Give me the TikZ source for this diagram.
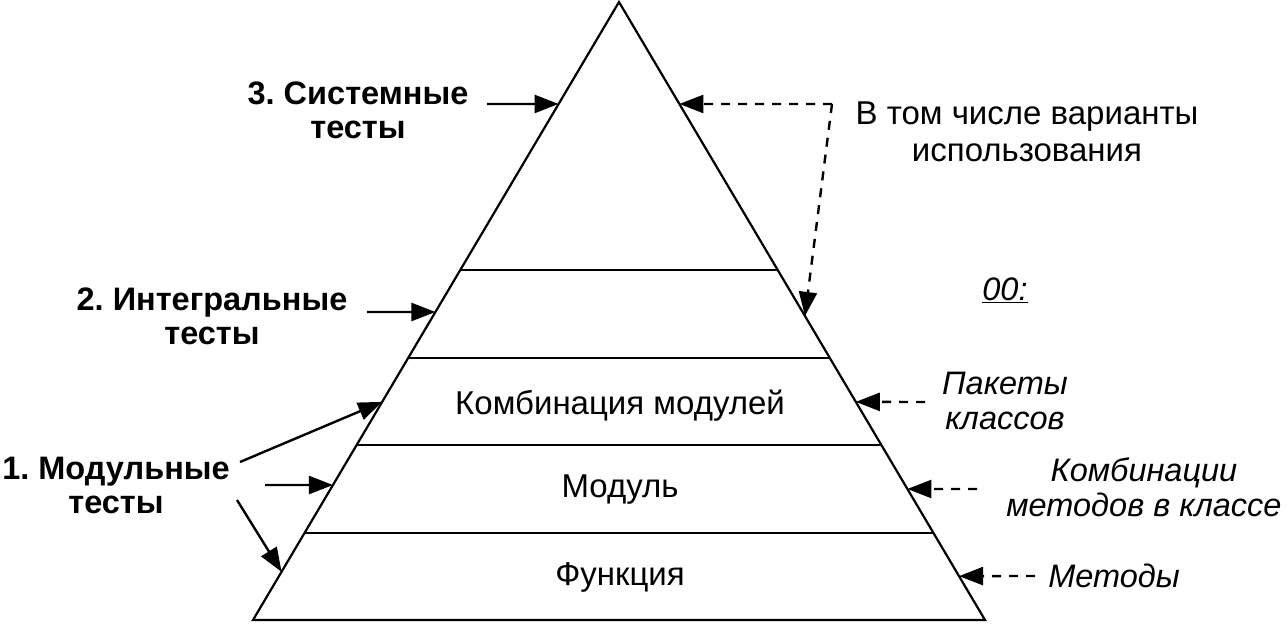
\documentclass[tikz,border=0pt]{standalone}
\usepackage{fontspec}
\setmainfont{Liberation Sans}
\usetikzlibrary{arrows.meta,calc}
\frenchspacing

\tikzset{
  level/.style={line width=2.2pt},
  pointer/.style={line width=2.4pt,-{Triangle[length=24pt,width=18pt]}},
  hint/.style={pointer,dash pattern=on 9pt off 8pt},
  bigtext/.style={font=\fontsize{32.5}{34}\selectfont\bfseries,align=center},
  plaintext/.style={font=\fontsize{33}{37}\selectfont,align=center},
  notetext/.style={font=\fontsize{32.5}{35}\selectfont\itshape,align=center}
}

\begin{document}
\begin{tikzpicture}[x=1pt,y=-1pt]

\useasboundingbox (0,0) rectangle (1288,626);

\coordinate (apex) at (619,2);
\coordinate (bl) at (253,620);
\coordinate (br) at (985,620);

\draw[level,line join=miter] (apex) -- (bl) -- (br) -- cycle;

%% horizontal cuts
\draw[level] ($(apex)!0.434!(bl)$) -- ($(apex)!0.434!(br)$);
\draw[level] ($(apex)!0.576!(bl)$) -- ($(apex)!0.576!(br)$);
\draw[level] ($(apex)!0.717!(bl)$) -- ($(apex)!0.717!(br)$);
\draw[level] ($(apex)!0.859!(bl)$) -- ($(apex)!0.859!(br)$);

\node[plaintext] (combo) at (620,406) {Комбинация модулей};
\node[plaintext] (modul) at (620,490) {Модуль};
\node[plaintext] (func) at (620,577) {Функция};

%% points on the left side
\coordinate (lsys) at ($(apex)!0.165!(bl)$);
\coordinate (lint) at ($(apex)!0.5016!(bl)$);
\coordinate (lcombo) at ($(apex)!0.647!(bl)$);
\coordinate (lmod) at ($(apex)!0.7816!(bl)$);
\coordinate (lfunc) at ($(apex)!0.922!(bl)$);

%% points on the right side
\coordinate (rsys) at ($(apex)!0.165!(br)$);
\coordinate (rint) at ($(apex)!0.508!(br)$);
\coordinate (rcombo) at ($(apex)!0.647!(br)$);
\coordinate (rmod) at ($(apex)!0.788!(br)$);
\coordinate (rfunc) at ($(apex)!0.929!(br)$);

%% left labels
\node[bigtext] (sys) at (358,110) {3. Системные\\тесты};
\node[bigtext] (integ) at (212,316) {2. Интегральные\\тесты};
\node[bigtext] (unit) at (116,485) {1. Модульные\\тесты};

\coordinate (sysfrom) at (487,104);
\coordinate (intfrom) at (367,312);
\coordinate (unitA) at (240,462);
\coordinate (unitB) at (265,485);
\coordinate (unitC) at (237,500);

\draw[pointer] (sysfrom) -- (lsys);
\draw[pointer] (intfrom) -- (lint);
\draw[pointer] (unitA) -- (lcombo);
\draw[pointer] (unitB) -- (lmod);
\draw[pointer] (unitC) -- (lfunc);

%% right labels
\node[plaintext] (usecase) at (1027,132) {В том числе варианты\\использования};
\node[notetext] (oo) at (1005,290) {\underline{00:}};
\node[notetext] (pack) at (1005,401) {Пакеты\\классов};
\node[notetext] (meth) at (1144,487) {Комбинации\\методов в классе};
\node[notetext] (single) at (1114,576) {Методы};

\coordinate (bend) at (832,104);
\draw[hint] (bend) -- (rsys);
\draw[hint] (bend) -- (rint);
\draw[hint] (925,402) -- (rcombo);
\draw[hint] (977,489) -- (rmod);
\draw[hint] (1035,576) -- (rfunc);

\end{tikzpicture}
\end{document}
